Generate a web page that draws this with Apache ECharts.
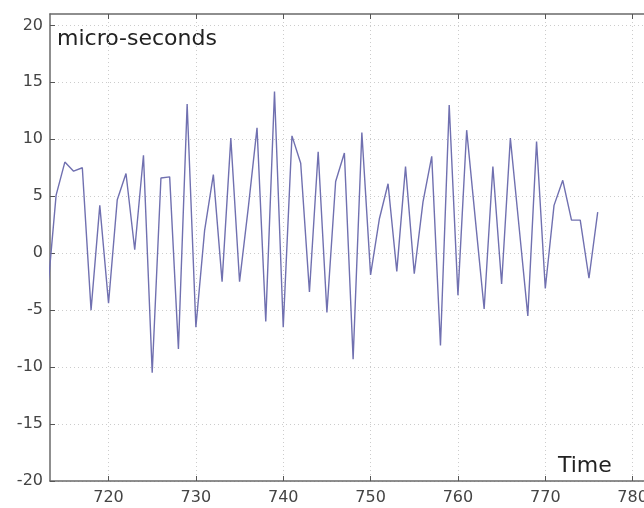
<!DOCTYPE html>
<html>
<head>
<meta charset="utf-8">
<script src="https://cdn.jsdelivr.net/npm/echarts@6/dist/echarts.min.js"></script>
<style>html,body{margin:0;padding:0;background:#fff;}#c{width:644px;height:508px;}</style>
</head>
<body>
<div id="c"></div>
<script>
var times = [713,714,715,716,717,718,719,720,721,722,723,724,725,726,727,728,729,730,731,732,733,734,735,736,737,738,739,740,741,742,743,744,745,746,747,748,749,750,751,752,753,754,755,756,757,758,759,760,761,762,763,764,765,766,767,768,769,770,771,772,773,774,775,776];
var values = [-3.6,5.1,8.0,7.2,7.5,-5.0,4.2,-4.4,4.7,7.0,0.3,8.6,-10.5,6.6,6.7,-8.4,13.1,-6.5,2.0,6.9,-2.5,10.1,-2.5,4.0,11.0,-6.0,14.2,-6.5,10.3,7.9,-3.4,8.9,-5.2,6.3,8.8,-9.3,10.6,-1.9,3.0,6.1,-1.6,7.6,-1.8,4.5,8.5,-8.1,13.0,-3.7,10.8,2.9,-4.9,7.6,-2.7,10.1,2.3,-5.5,9.8,-3.1,4.2,6.4,2.9,2.9,-2.2,3.6];
var xTicks = [720,730,740,750,760,770,780];
var yTicks = [-20,-15,-10,-5,0,5,10,15,20];

var data = times.map(function(t,i){return [t, values[i]];});
var chart = echarts.init(document.getElementById('c'));
var FONT = 'DejaVu Sans, sans-serif';
var labelFont = {color:'#444', fontSize:16, fontFamily:FONT};
var axisLine = {show:true, onZero:false, lineStyle:{color:'#6a6a6a', width:1.5}};
var tick = {show:true, inside:true, length:5, lineStyle:{color:'#555'}};
chart.setOption({
  backgroundColor:'#fff',
  animation:false,
  grid:{left:50, right:0, top:14, bottom:27, show:false, containLabel:false, outerBoundsMode:'none'},
  xAxis:[{
    type:'value', min:713.3, max:781.3, interval:10,
    axisLine:axisLine,
    axisTick:Object.assign({customValues: xTicks}, tick),
    axisLabel:Object.assign({margin:9, customValues: xTicks,
      formatter:function(v){return xTicks.indexOf(v)>=0 ? String(v) : '';}}, labelFont),
    splitLine:{show:true, lineStyle:{color:'#ccc', type:[1,3], width:1}}
  },{
    type:'value', position:'top', min:713.3, max:781.3, interval:10,
    axisLine:axisLine,
    axisTick:Object.assign({customValues: xTicks}, tick),
    axisLabel:{show:false},
    splitLine:{show:false}
  }],
  yAxis:{
    type:'value', min:-20, max:21, interval:5,
    axisLine:axisLine,
    axisTick:Object.assign({customValues: yTicks}, tick),
    axisLabel:Object.assign({margin:7, customValues: yTicks,
      formatter:function(v){return yTicks.indexOf(v)>=0 ? String(v) : '';}}, labelFont),
    splitLine:{show:true, lineStyle:{color:'#ccc', type:[1,3], width:1}}
  },
  series:[{
    type:'line', data:data, symbol:'none', clip:true,
    lineStyle:{color:'#7070b0', width:1.4}
  }],
  graphic:[
    {type:'text', left:57, top:28, style:{text:'micro-seconds', fill:'#222', fontSize:22, fontFamily:FONT}},
    {type:'text', left:558, top:455, style:{text:'Time', fill:'#222', fontSize:22, fontFamily:FONT}}
  ]
});
</script>
</body>
</html>
